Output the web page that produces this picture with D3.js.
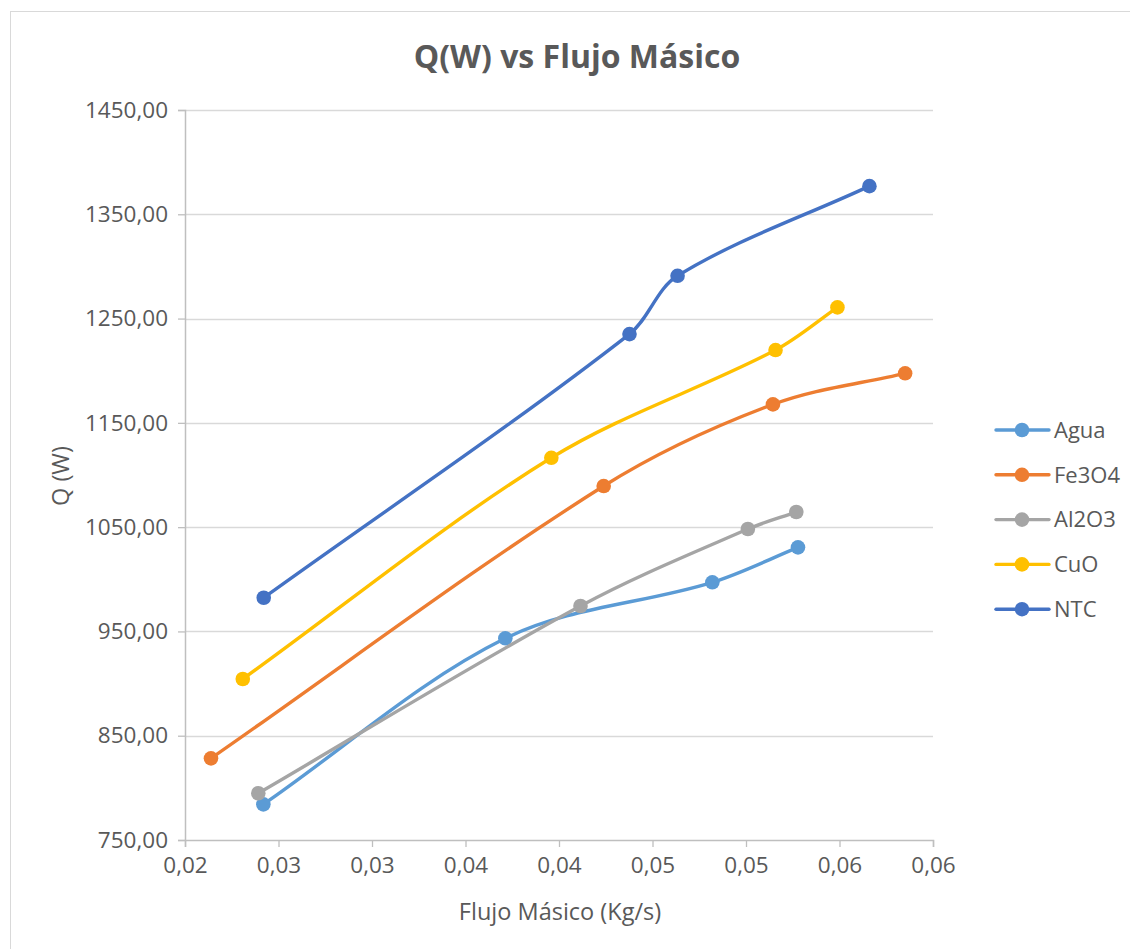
<!DOCTYPE html>
<html>
<head>
<meta charset="utf-8">
<script src="https://cdn.jsdelivr.net/npm/d3@7"></script>
<style>
  html, body { margin: 0; padding: 0; background: #fff; }
  svg { display: block; font-family: "Open Sans", "Noto Sans", sans-serif; }
</style>
</head>
<body>
<svg id="chart" width="1130" height="949"></svg>
<script>
// Series names and colours
const seriesNames = ["Agua", "Fe3O4", "Al2O3", "CuO", "NTC"];
const seriesColors = ["#5B9BD5", "#ED7D31", "#A5A5A5", "#FFC000", "#4472C4"];

// Mass flow (kg/s) for each series
const flowAgua  = [0.02419, 0.03713, 0.04820, 0.05278];
const flowFe3O4 = [0.02139, 0.04239, 0.05144, 0.05851];
const flowAl2O3 = [0.02392, 0.04115, 0.05010, 0.05269];
const flowCuO   = [0.02309, 0.03959, 0.05158, 0.05489];
const flowNTC   = [0.02421, 0.04377, 0.04634, 0.05660];

// Heat transfer Q (W) for each series
const qAgua  = [784.2, 943.4, 997.1, 1030.6];
const qFe3O4 = [828.3, 1089.4, 1167.7, 1197.5];
const qAl2O3 = [794.8, 974.4, 1048.2, 1064.5];
const qCuO   = [904.4, 1116.5, 1219.8, 1260.7];
const qNTC   = [982.3, 1235.1, 1291.0, 1377.0];

// Axis ticks
const xTicks = [0.02, 0.025, 0.03, 0.035, 0.04, 0.045, 0.05, 0.055, 0.06];
const yTicks = [750, 850, 950, 1050, 1150, 1250, 1350, 1450];

const flows = [flowAgua, flowFe3O4, flowAl2O3, flowCuO, flowNTC];
const heats = [qAgua, qFe3O4, qAl2O3, qCuO, qNTC];
const series = seriesNames.map((name, i) => ({
  name,
  color: seriesColors[i],
  points: flows[i].map((f, j) => ({ x: f, y: heats[i][j] }))
}));

// Smooth curve: cubic Béziers whose tangent at each point follows its
// neighbours, with handle length scaled to the adjacent segment.
function SmoothCurve(context) { this._context = context; }
SmoothCurve.prototype = {
  areaStart() { this._line = 0; },
  areaEnd() { this._line = NaN; },
  lineStart() { this._pts = []; },
  point(px, py) { this._pts.push([+px, +py]); },
  lineEnd() {
    const p = this._pts, n = p.length, c = this._context;
    if (!n) return;
    c.moveTo(p[0][0], p[0][1]);
    if (n === 1) return;
    const tan = p.map((pt, i) => {
      const a = p[Math.max(i - 1, 0)], b = p[Math.min(i + 1, n - 1)];
      const dx = b[0] - a[0], dy = b[1] - a[1];
      const len = Math.hypot(dx, dy) || 1;
      return [dx / len, dy / len];
    });
    for (let i = 0; i < n - 1; i++) {
      const a = p[i], b = p[i + 1];
      const L = Math.hypot(b[0] - a[0], b[1] - a[1]) / 3;
      c.bezierCurveTo(
        a[0] + tan[i][0] * L, a[1] + tan[i][1] * L,
        b[0] - tan[i + 1][0] * L, b[1] - tan[i + 1][1] * L,
        b[0], b[1]);
    }
  }
};
const smoothCurve = context => new SmoothCurve(context);

const svg = d3.select("#chart");
const textColor = "#595959";
const labelSize = "22.5px";

// Chart frame
svg.append("rect")
  .attr("x", 10.5).attr("y", 11.5)
  .attr("width", 1140).attr("height", 960)
  .attr("fill", "#fff").attr("stroke", "#d9d9d9").attr("stroke-width", 1);

const plot = { left: 185, right: 933, top: 110, bottom: 840 };

const x = d3.scaleLinear().domain([0.02, 0.06]).range([plot.left, plot.right]);
const y = d3.scaleLinear().domain([750, 1450]).range([plot.bottom, plot.top]);

const fmt = v => d3.format(".2f")(v).replace(".", ",");

// Horizontal gridlines
svg.append("g")
  .selectAll("line")
  .data(yTicks.slice(1))
  .join("line")
  .attr("x1", plot.left).attr("x2", plot.right)
  .attr("y1", d => Math.round(y(d)) + 0.5).attr("y2", d => Math.round(y(d)) + 0.5)
  .attr("stroke", "#d9d9d9").attr("stroke-width", 1.3);

// Y axis
const yAxis = svg.append("g")
  .attr("transform", `translate(${plot.left},0)`)
  .call(d3.axisLeft(y).tickValues(yTicks).tickSize(7).tickPadding(10).tickFormat(fmt));
yAxis.select(".domain").attr("stroke", "#bfbfbf").attr("stroke-width", 1.5);
yAxis.selectAll(".tick line").attr("stroke", "#bfbfbf").attr("stroke-width", 1.3);
yAxis.selectAll(".tick text")
  .attr("fill", textColor).style("font-size", labelSize).style("font-family", "'Open Sans', sans-serif");

// X axis
const xAxis = svg.append("g")
  .attr("transform", `translate(0,${plot.bottom})`)
  .call(d3.axisBottom(x).tickValues(xTicks).tickSize(7).tickPadding(10)
    .tickFormat(d => d3.format(".2f")(d + 1e-9).replace(".", ",")));
xAxis.select(".domain").attr("stroke", "#bfbfbf").attr("stroke-width", 1.5);
xAxis.selectAll(".tick line").attr("stroke", "#bfbfbf").attr("stroke-width", 1.3);
xAxis.selectAll(".tick text")
  .attr("fill", textColor).style("font-size", labelSize).style("font-family", "'Open Sans', sans-serif");

// Smoothed series lines
const line = d3.line()
  .x(d => x(d.x)).y(d => y(d.y))
  .curve(smoothCurve);

const gSeries = svg.append("g");
series.forEach(s => {
  gSeries.append("path")
    .datum(s.points)
    .attr("d", line)
    .attr("fill", "none")
    .attr("stroke", s.color)
    .attr("stroke-width", 3.4)
    .attr("stroke-linecap", "round");
  gSeries.append("g")
    .selectAll("circle")
    .data(s.points)
    .join("circle")
    .attr("cx", d => x(d.x)).attr("cy", d => y(d.y))
    .attr("r", 7.3)
    .attr("fill", s.color);
});

// Title
svg.append("text")
  .attr("x", 577).attr("y", 68)
  .attr("text-anchor", "middle")
  .attr("fill", textColor)
  .style("font-size", "32px").style("font-weight", "bold")
  .text("Q(W) vs Flujo Másico");

// Axis titles
svg.append("text")
  .attr("x", (plot.left + plot.right) / 2 + 1).attr("y", 920)
  .attr("text-anchor", "middle")
  .attr("fill", textColor)
  .style("font-size", "23.5px")
  .text("Flujo Másico (Kg/s)");

svg.append("text")
  .attr("transform", "translate(69,476) rotate(-90)")
  .attr("text-anchor", "middle")
  .attr("fill", textColor)
  .style("font-size", "23.5px")
  .text("Q (W)");

// Legend
const legend = svg.append("g")
  .selectAll("g")
  .data(series)
  .join("g")
  .attr("transform", (d, i) => `translate(996,${430 + i * 44.8})`);
legend.append("line")
  .attr("x1", 0).attr("x2", 53).attr("y1", 0).attr("y2", 0)
  .attr("stroke", d => d.color).attr("stroke-width", 3.4).attr("stroke-linecap", "round");
legend.append("circle")
  .attr("cx", 26).attr("cy", 0).attr("r", 7.3)
  .attr("fill", d => d.color);
legend.append("text")
  .attr("x", 58).attr("y", 0).attr("dy", "0.35em")
  .attr("fill", textColor)
  .style("font-size", "22px")
  .text(d => d.name);
</script>
</body>
</html>
